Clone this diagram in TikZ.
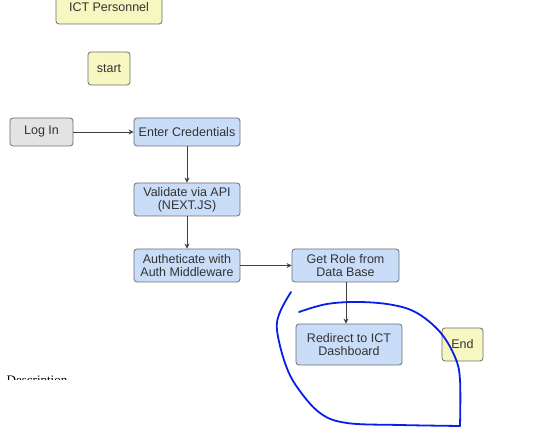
\documentclass[tikz,border=0pt]{standalone}
\usepackage{fontspec}
\setmainfont{Liberation Serif}
\newfontfamily\boxfont{Liberation Sans}
\usetikzlibrary{arrows.meta}
\definecolor{bluefill}{HTML}{C9DCF8}
\definecolor{yellowfill}{HTML}{F7F7C2}
\definecolor{grayfill}{HTML}{E3E3E3}
\definecolor{edgegray}{HTML}{6E6E6E}
\definecolor{textgray}{HTML}{333333}
\definecolor{penblue}{HTML}{0A1EE6}
\tikzset{
  box/.style={draw=edgegray, line width=0.8pt, rounded corners=3pt, align=center,
    font=\boxfont\fontsize{12.5}{13}\selectfont, text=textgray, inner sep=0pt},
  bluebox/.style={box, fill=bluefill},
  yellowbox/.style={box, fill=yellowfill},
  graybox/.style={box, fill=grayfill},
  link/.style={draw=black!75, line width=0.8pt, -{Stealth[length=5pt,width=5pt]}},
  pen/.style={penblue, line width=1.8pt, line cap=round, line join=round},
}
\begin{document}
\begin{tikzpicture}[x=1pt,y=-1pt]
\useasboundingbox (0,0) rectangle (533,427);
\clip (0,0) rectangle (533,427);
\node[yellowbox, minimum width=106pt, minimum height=34pt] (ict) at (109,7) {ICT Personnel};
\node[yellowbox, minimum width=42pt, minimum height=33pt] (start) at (109,68.5) {start};
\node[graybox, minimum width=63pt, minimum height=28pt] (login) at (41.5,132) {Log In};
\node[bluebox, minimum width=106pt, minimum height=28pt] (enter) at (187,132) {Enter Credentials};
\node[bluebox, minimum width=106pt, minimum height=33pt] (validate) at (187,199.5) {Validate via API\\(NEXT.JS)};
\node[bluebox, minimum width=106pt, minimum height=33pt] (auth) at (187,265.5) {Autheticate with\\Auth Middleware};
\node[bluebox, minimum width=107pt, minimum height=33pt] (role) at (345.5,265.5) {Get Role from\\Data Base};
\node[bluebox, minimum width=106pt, minimum height=41pt] (redirect) at (349,344.5) {Redirect to ICT\\Dashboard};
\node[yellowbox, minimum width=41pt, minimum height=33pt] (end) at (462.5,344.5) {End};
\draw[link] (login) -- (enter);
\draw[link] (enter) -- (validate);
\draw[link] (validate) -- (auth);
\draw[link] (auth) -- (role);
\draw[link] (role.south) ++(0.5,0) coordinate (rs) -- (rs |- redirect.north);
\begin{scope}
\clip (0,360) rectangle (120,380);
\node[anchor=west, font=\fontsize{13}{13}\selectfont, inner sep=0pt] (desc) at (6.5,381.5) {Description};
\end{scope}
\draw[pen]
  plot[smooth, tension=0.6] coordinates {
  (291,292) (280,312) (277,330) (285,363) (297,387) (320,413) (347,423)
  (400,425) (460,426)};
\draw[pen]
  plot[smooth, tension=0.6] coordinates {
  (460,426) (460,380) (455,357) (440,332) (417,313) (393,305)
  (360,302) (327,304) (299,312)};
\end{tikzpicture}
\end{document}
